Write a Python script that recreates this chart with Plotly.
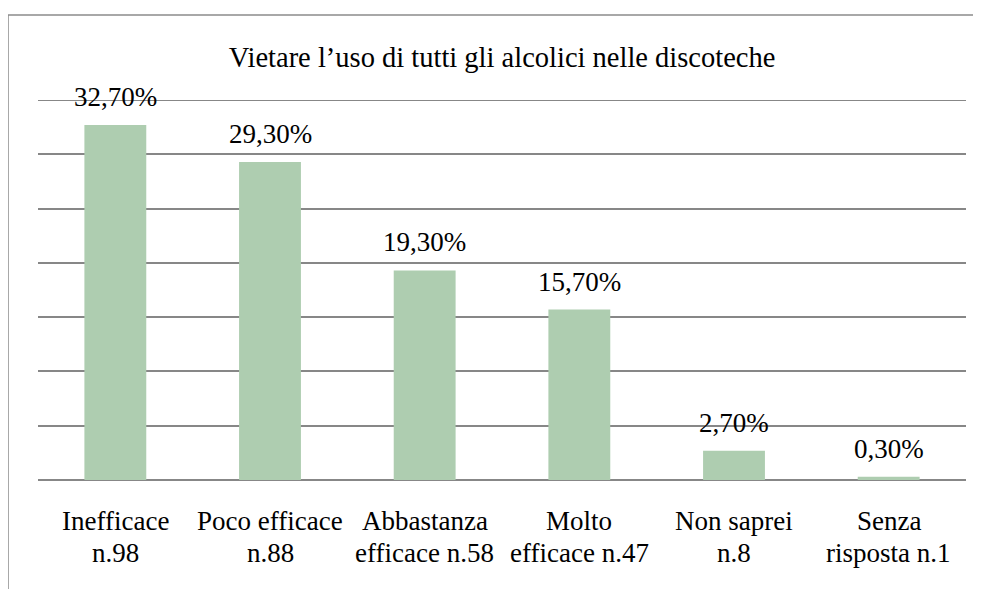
import plotly.graph_objects as go

line1 = ["Inefficace", "Poco efficace", "Abbastanza", "Molto", "Non saprei", "Senza"]
line2 = ["n.98", "n.88", "efficace n.58", "efficace n.47", "n.8", "risposta n.1"]
categories = [f"{a} {b}" for a, b in zip(line1, line2)]
values = [32.7, 29.3, 19.3, 15.7, 2.7, 0.3]
value_labels = [f"{v:.2f}".replace(".", ",") + "%" for v in values]
title_text = "Vietare l’uso di tutti gli alcolici nelle discoteche"
y_max = 35

FONT = "Liberation Serif"
LABEL_SIZE = 27
GRID = "#878787"

fig = go.Figure(go.Bar(
    x=categories, y=values,
    marker=dict(color="#AECDB0", line=dict(width=0)),
    cliponaxis=False, hoverinfo="skip",
))

annotations = []
for c, v, t in zip(categories, values, value_labels):
    annotations.append(dict(x=c, y=v, xref="x", yref="y", text=t, showarrow=False,
                            yanchor="middle", yshift=28,
                            font=dict(family=FONT, size=LABEL_SIZE, color="#000000")))
for c, a, b in zip(categories, line1, line2):
    annotations.append(dict(x=c, y=0, xref="x", yref="paper", text=a, showarrow=False,
                            yanchor="middle", yshift=-41,
                            font=dict(family=FONT, size=LABEL_SIZE, color="#000000")))
    annotations.append(dict(x=c, y=0, xref="x", yref="paper", text=b, showarrow=False,
                            yanchor="middle", yshift=-73,
                            font=dict(family=FONT, size=LABEL_SIZE, color="#000000")))

fig.update_layout(
    width=973, height=581,
    margin=dict(l=30, r=15, t=92, b=109, pad=0),
    paper_bgcolor="white", plot_bgcolor="white",
    bargap=0.6,
    showlegend=False,
    title=dict(text=title_text, x=(30 + 464) / 973, xanchor="center", y=1 - 49 / 581, yanchor="middle",
               font=dict(family=FONT, size=28.5, color="#000000")),
    xaxis=dict(showgrid=False, showline=False, ticks="", showticklabels=False),
    yaxis=dict(range=[0, y_max], dtick=5, showticklabels=False, showgrid=True,
               gridcolor=GRID, gridwidth=2, zeroline=True, zerolinecolor=GRID,
               zerolinewidth=2, showline=False, ticks=""),
    annotations=annotations,
    shapes=[
        dict(type="rect", xref="paper", yref="paper",
             x0=-30 / 928, x1=1.2, y0=-0.5, y1=(581 - 7 - 109) / 380,
             line=dict(color="#8c8c8c", width=1.5), fillcolor="rgba(0,0,0,0)", layer="below"),
        dict(type="line", xref="paper", yref="y", x0=0, x1=1, y0=y_max, y1=y_max,
             line=dict(color=GRID, width=2), layer="below"),
    ],
)

fig.write_html("out.html")
